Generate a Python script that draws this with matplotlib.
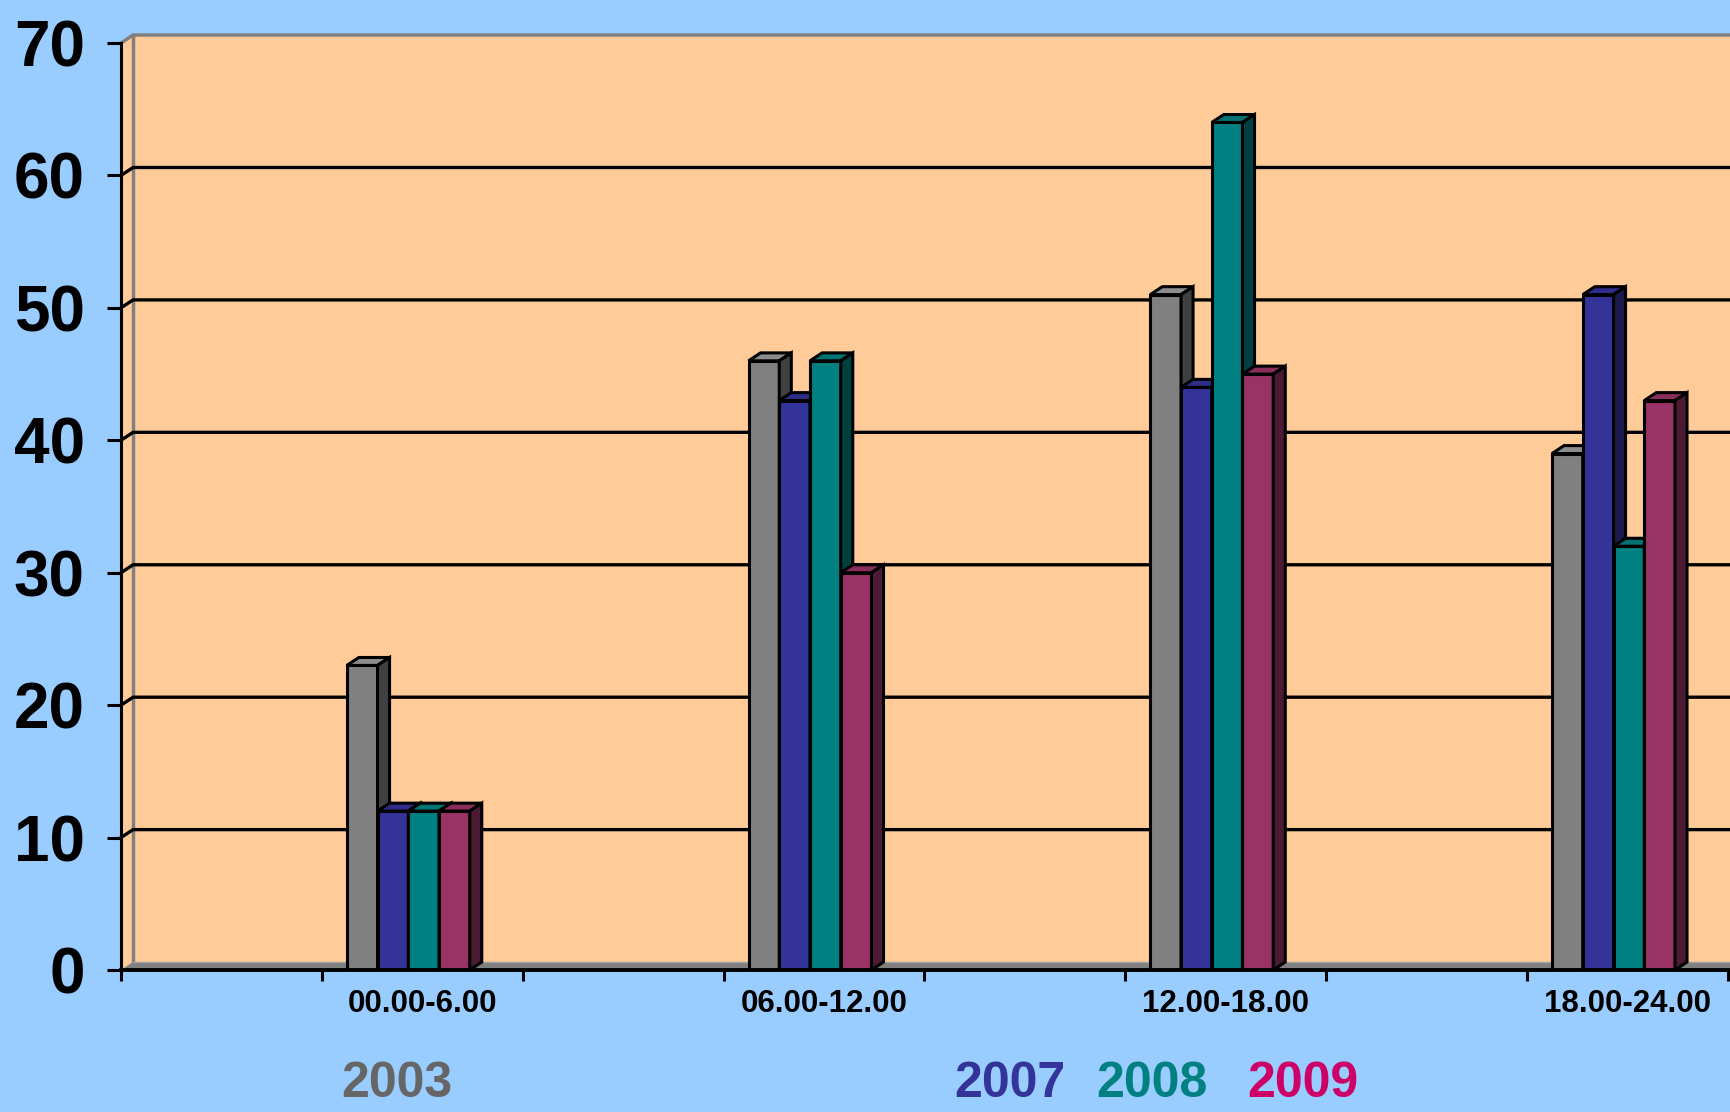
import matplotlib

matplotlib.use("Agg")

import matplotlib.pyplot as plt
import numpy as np
from matplotlib.patches import Polygon

# data: 8 category slots, every other one empty (as in the original sheet)
categories = ["", "00.00-6.00", "", "06.00-12.00", "", "12.00-18.00", "", "18.00-24.00"]
years = ["2003", "2007", "2008", "2009"]
v2003 = [np.nan, 23, np.nan, 46, np.nan, 51, np.nan, 39]
v2007 = [np.nan, 12, np.nan, 43, np.nan, 44, np.nan, 51]
v2008 = [np.nan, 12, np.nan, 46, np.nan, 64, np.nan, 32]
v2009 = [np.nan, 12, np.nan, 30, np.nan, 45, np.nan, 43]
series = [v2003, v2007, v2008, v2009]

front = ["#808080", "#333399", "#008080", "#993366"]
top = ["#8c8c8c", "#2e2e8a", "#007373", "#8a2e5c"]
side = ["#404040", "#1a1a4d", "#004040", "#4d1a33"]
legend_col = ["#666666", "#333399", "#008080", "#CC0066"]

BG = "#99CCFF"
WALL = "#FFCC99"
DX, DY = 0.06, 0.6  # 3D depth offset in data units
W = 0.153
GROUP = 0.43
LW = 2.2

fig = plt.figure(figsize=(17.31, 11.12), dpi=100, facecolor=BG)
ax = fig.add_axes([121 / 1731, 142 / 1112, (1728 - 121) / 1731, (970 - 43) / 1112])
ax.set_facecolor(BG)
ax.set_xlim(0, len(categories))
ax.set_ylim(0, 70)

# back wall + side wall
ax.add_patch(Polygon([(DX, DY), (9, DY), (9, 70 + DY), (DX, 70 + DY)], closed=True,
                     facecolor=WALL, edgecolor="none", zorder=0, clip_on=False))
ax.add_patch(Polygon([(0, 0), (DX, DY), (DX, 70 + DY), (0, 70)], closed=True,
                     facecolor=WALL, edgecolor="none", zorder=0, clip_on=False))
ax.plot([DX, DX], [DY, 70 + DY], color="#808080", lw=2.5, zorder=1, clip_on=False)
ax.plot([0, DX, 9], [70, 70 + DY, 70 + DY], color="#808080", lw=2.5, zorder=1, clip_on=False)

# gridlines on the wall
for y in range(10, 70, 10):
    ax.plot([0, DX, 9], [y, y + DY, y + DY], color="black", lw=2.4, zorder=1, clip_on=False)

# floor
ax.add_patch(Polygon([(0, 0), (9, 0), (9, DY), (DX, DY)], closed=True,
                     facecolor="#808080", edgecolor="none", zorder=1, clip_on=False))
ax.plot([DX, 9], [DY, DY], color="#a0a0a0", lw=1.0, zorder=1, clip_on=False)

z = 2
for i in range(len(categories)):
    for s, vals in enumerate(series):
        h = vals[i]
        if np.isnan(h):
            continue
        x0 = i + GROUP - 2 * W + s * W
        ax.bar(x0, h, width=W, align="edge", color=front[s], edgecolor="black",
               linewidth=LW, zorder=z)
        ax.add_patch(Polygon([(x0, h), (x0 + W, h), (x0 + W + DX, h + DY), (x0 + DX, h + DY)],
                             closed=True, facecolor=top[s], edgecolor="black", lw=LW,
                             zorder=z, joinstyle="miter"))
        ax.add_patch(Polygon([(x0 + W, 0), (x0 + W + DX, DY), (x0 + W + DX, h + DY), (x0 + W, h)],
                             closed=True, facecolor=side[s], edgecolor="black", lw=LW,
                             zorder=z, joinstyle="miter"))
        z += 1

for sp in ["top", "right"]:
    ax.spines[sp].set_visible(False)
ax.spines["left"].set_linewidth(2.2)
ax.spines["bottom"].set_linewidth(2.8)
ax.spines["left"].set_zorder(50)
ax.spines["bottom"].set_zorder(50)

ax.set_yticks(range(0, 71, 10))
ax.set_yticklabels([str(v) for v in range(0, 71, 10)], fontsize=46, fontweight="bold",
                   family="Liberation Sans")
ax.tick_params(axis="y", length=10, width=2.2, pad=16, direction="out")

ax.set_xticks(range(0, len(categories) + 1))
ax.set_xticklabels([])
ax.tick_params(axis="x", length=8, width=2.2, direction="out")
for i, lab in enumerate(categories):
    if lab:
        ax.text(i + 0.5, -2.6, lab, ha="center", va="center", fontsize=22.5,
                fontweight="bold", family="Liberation Sans")

# year "legend" as coloured text
leg_x = [397, 1010, 1152, 1303]
for yr, col, xp in zip(years, legend_col, leg_x):
    fig.text(xp / 1731, 1 - 1084 / 1112, yr, color=col, fontsize=36, fontweight="bold",
             ha="center", va="center", family="Liberation Sans")

fig.savefig("out.png", dpi=100, facecolor=BG)
